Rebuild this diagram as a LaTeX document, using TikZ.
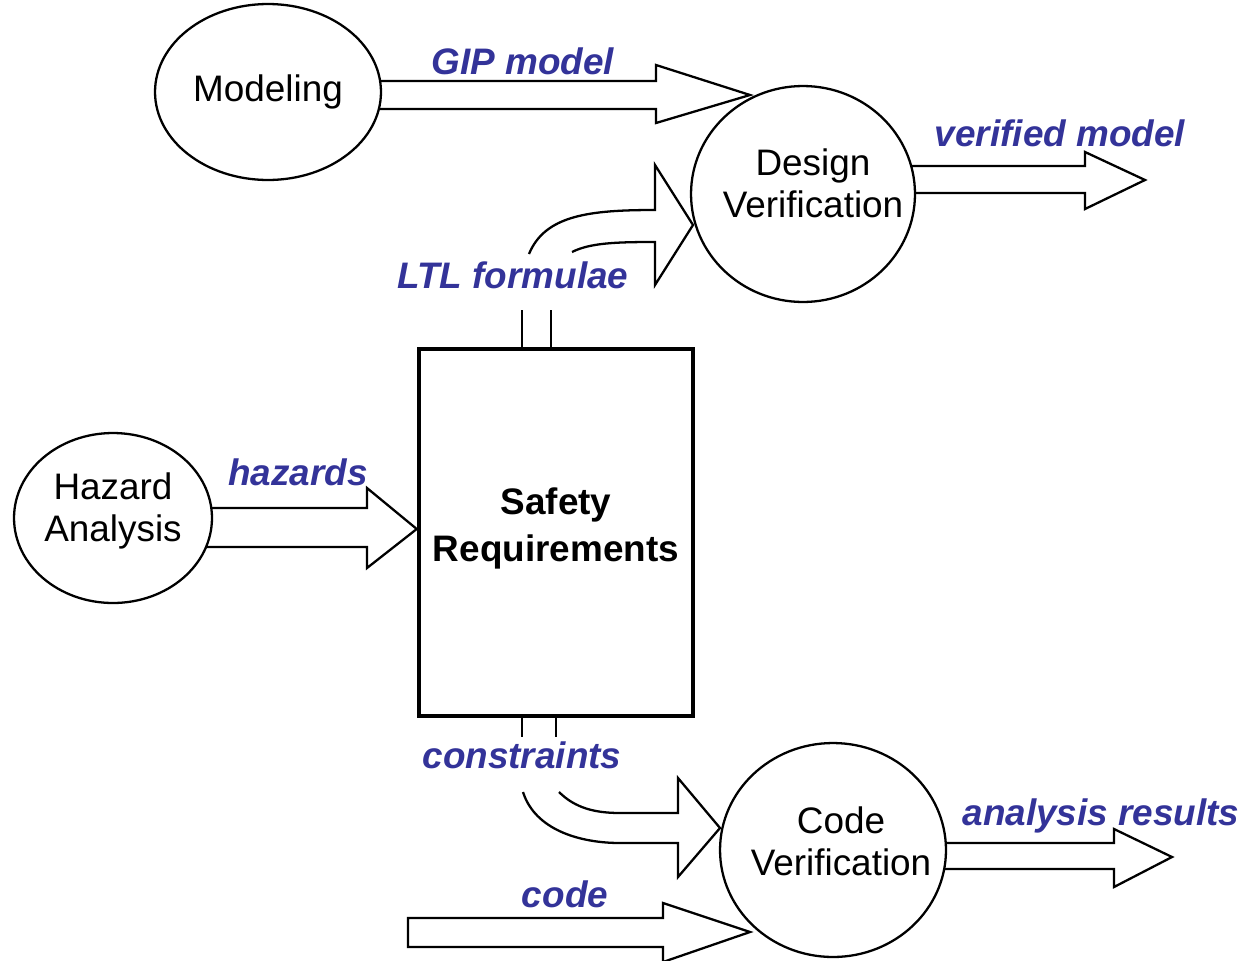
\documentclass[tikz,border=0pt]{standalone}
\usepackage{fontspec}
\setmainfont{Liberation Sans}
\usetikzlibrary{shapes.geometric,backgrounds}
\definecolor{flowblue}{RGB}{51,51,153}
\tikzset{
  bubble/.style={draw, ellipse, fill=white, line width=1.3pt, inner sep=0pt,
    align=center, font=\fontsize{21}{24}\selectfont},
  reqbox/.style={draw, fill=white, line width=2.6pt, inner sep=0pt,
    align=center, font=\fontsize{21}{27}\selectfont\bfseries},
  flowlabel/.style={anchor=base, inner sep=0pt, text=flowblue,
    font=\fontsize{21}{24}\selectfont\bfseries\itshape},
  fatarrow/.style={draw, fill=white, line width=1.3pt, line join=miter},
}
\begin{document}
\begin{tikzpicture}[x=0.02cm,y=-0.02cm]
\useasboundingbox (0,0) rectangle (1246,960);
% the processes
\node[bubble, minimum width=4.52cm, minimum height=3.52cm] (model) at (268,92) {Modeling};
\node[bubble, inner xsep=-0.46cm, text depth=12.5pt, minimum width=4.48cm, minimum height=4.32cm]
  (design) at (803,194) {\hspace*{0.4cm}Design\\\hspace*{0.4cm}Verification};
\node[bubble, text depth=12.5pt, minimum width=3.96cm, minimum height=3.40cm]
  (hazard) at (113,518) {Hazard\\Analysis};
\node[bubble, inner xsep=-0.42cm, text depth=10pt, minimum width=4.52cm, minimum height=4.28cm]
  (codever) at (833,850) {\hspace*{0.32cm}Code\\\hspace*{0.32cm}Verification};
\node[reqbox, text depth=9pt, minimum width=5.48cm, minimum height=7.34cm]
  (safety) at (556,532.5) {Safety\\Requirements};
% what flows between them
\node[flowlabel] (gip) at (523,74) {GIP model};
\node[flowlabel] (verif) at (1060,146) {verified model};
\node[flowlabel] (ltl) at (513,288) {LTL formulae};
\node[flowlabel] (haz) at (298,485) {hazards};
\node[flowlabel] (cons) at (522,768) {constraints};
\node[flowlabel] (code) at (565,907) {code};
\node[flowlabel] (res) at (1101,825) {analysis results};
% stubs on the box
\draw[line width=1.3pt] (safety.north -| 522,0) -- ++(0,-37);
\draw[line width=1.3pt] (safety.north -| 551,0) -- ++(0,-37);
\draw[line width=1.3pt] (safety.south -| 522,0) -- ++(0,19);
\draw[line width=1.3pt] (safety.south -| 556,0) -- ++(0,19);
\begin{scope}[on background layer]
% straight arrows
\draw[fatarrow] (model.center |- 0,81) -- (656,81) -- (656,65) -- (750,95)
  -- (656,123) -- (656,109) -- (model.center |- 0,109);
\draw[fatarrow] (design.center |- 0,166) -- (1085,166) -- (1085,152) -- (1145,180)
  -- (1085,209) -- (1085,193) -- (design.center |- 0,193);
\draw[fatarrow] (hazard.center |- 0,508) -- (367,508) -- (367,488) -- (safety.west |- 0,529)
  -- (367,568) -- (367,547) -- (hazard.center |- 0,547);
\draw[fatarrow] (codever.center |- 0,843) -- (1114,843) -- (1114,829) -- (1172,857)
  -- (1114,887) -- (1114,869) -- (codever.center |- 0,869);
\draw[fatarrow] (408,918) -- (663,918) -- (663,903) -- (750,932)
  -- (663,962) -- (663,947) -- (408,947) -- cycle;
% curved arrows
\draw[fatarrow] (529,254) .. controls (545,215) and (590,210) .. (655,210)
  -- (655,165) -- (693,225) -- (655,285) -- (655,242)
  .. controls (615,242) and (590,243) .. (572,252);
\draw[fatarrow] (523,792) .. controls (535,830) and (580,843) .. (620,843)
  -- (678,843) -- (678,877) -- (720,828) -- (678,778) -- (678,813) -- (620,813)
  .. controls (595,813) and (575,808) .. (559,792);
\end{scope}
\end{tikzpicture}
\end{document}
